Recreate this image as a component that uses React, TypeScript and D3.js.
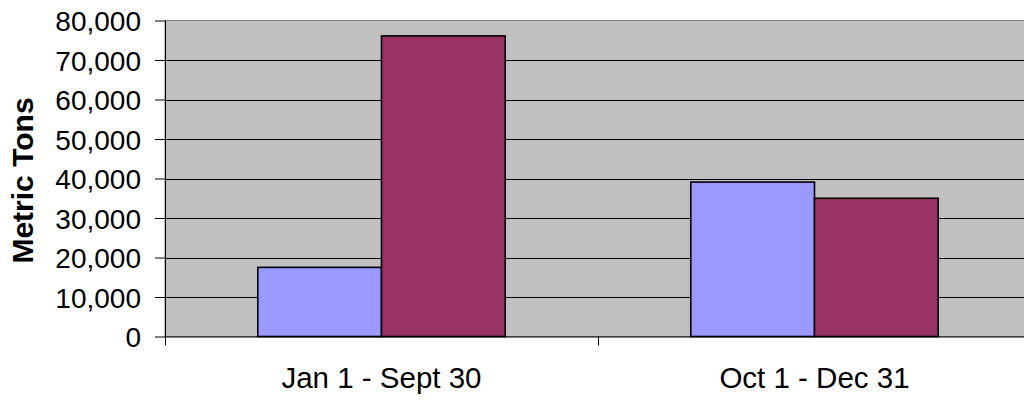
import * as d3 from "d3";
import { useEffect, useRef } from "react";

const categories = ["Jan 1 - Sept 30", "Oct 1 - Dec 31"];
const seriesNames = ["Series A", "Series B"];
const seriesA = [17500, 39100];
const seriesB = [76100, 35000];
const yTicks = [0, 10000, 20000, 30000, 40000, 50000, 60000, 70000, 80000];
const yLabel = "Metric Tons";

const COLORS = {
  plot: "#C0C0C0",
  border: "#808080",
  grid: "#000000",
  text: "#000000",
  series: ["#9999FF", "#993366"],
};

const WIDTH = 1024;
const HEIGHT = 401;
const FONT = "'Liberation Sans', Arial, sans-serif";

const App = () => {
  const svgRef = useRef<SVGSVGElement | null>(null);

  useEffect(() => {
    document.body.style.margin = "0";
    if (!svgRef.current) return;

    const svg = d3.select(svgRef.current);
    svg.selectAll("*").remove();

    // plot area runs past the right edge of the picture, like the original
    const left = 165;
    const right = 1031;
    const top = 20.5;
    const bottom = 336.5;

    const x = d3.scaleBand<string>().domain(categories).range([left, right]);
    const y = d3.scaleLinear().domain([0, 80000]).range([bottom, top]);

    // excel style gap width 150%
    const groupWidth = (x.bandwidth() * 2) / 3.5;
    const inner = d3
      .scaleBand<string>()
      .domain(seriesNames)
      .range([0, groupWidth]);

    svg
      .append("rect")
      .attr("x", left)
      .attr("y", top)
      .attr("width", right - left)
      .attr("height", bottom - top)
      .attr("fill", COLORS.plot)
      .attr("stroke", COLORS.border)
      .attr("stroke-width", 1);

    // gridlines
    svg
      .append("g")
      .selectAll("line")
      .data(yTicks.filter((t) => t > 0 && t < 80000))
      .join("line")
      .attr("x1", left)
      .attr("x2", right)
      .attr("y1", (d) => Math.round(y(d)) + 0.5)
      .attr("y2", (d) => Math.round(y(d)) + 0.5)
      .attr("stroke", COLORS.grid)
      .attr("stroke-width", 1);

    // bars
    const rows = categories.map((c, i) => ({
      category: c,
      values: [seriesA[i], seriesB[i]],
    }));

    svg
      .append("g")
      .selectAll("g")
      .data(rows)
      .join("g")
      .attr(
        "transform",
        (d) =>
          `translate(${(x(d.category) as number) + (x.bandwidth() - groupWidth) / 2},0)`
      )
      .selectAll("rect")
      .data((d) => d.values.map((v, i) => ({ name: seriesNames[i], value: v, i })))
      .join("rect")
      .attr("x", (d) => inner(d.name) as number)
      .attr("y", (d) => y(d.value))
      .attr("width", inner.bandwidth())
      .attr("height", (d) => bottom - y(d.value))
      .attr("fill", (d) => COLORS.series[d.i])
      .attr("stroke", "#000")
      .attr("stroke-width", 1.6);

    // y axis
    const yAxis = svg.append("g").attr("transform", `translate(${left},0)`);
    yAxis
      .call(
        d3
          .axisLeft(y)
          .tickValues(yTicks)
          .tickSize(10)
          .tickPadding(14)
          .tickFormat((d) => d3.format(",")(d as number))
      )
      .call((g) => g.select(".domain").attr("stroke", "#000").attr("d", `M0.5,${top}V${bottom}`))
      .call((g) => g.selectAll(".tick line").attr("stroke", "#000"))
      .call((g) =>
        g
          .selectAll(".tick text")
          .attr("fill", COLORS.text)
          .attr("font-family", FONT)
          .attr("font-size", 28)
          .attr("dy", "0.36em")
      );

    // x axis
    svg
      .append("line")
      .attr("x1", left)
      .attr("x2", right)
      .attr("y1", bottom + 0.5)
      .attr("y2", bottom + 0.5)
      .attr("stroke", "#000");

    svg
      .append("g")
      .selectAll("line")
      .data([left, left + x.bandwidth(), right])
      .join("line")
      .attr("x1", (d) => Math.round(d) + 0.5)
      .attr("x2", (d) => Math.round(d) + 0.5)
      .attr("y1", bottom)
      .attr("y2", bottom + 9)
      .attr("stroke", "#000");

    svg
      .append("g")
      .selectAll("text")
      .data(categories)
      .join("text")
      .attr("x", (d) => (x(d) as number) + x.bandwidth() / 2)
      .attr("y", 388)
      .attr("text-anchor", "middle")
      .attr("font-family", FONT)
      .attr("font-size", 29.5)
      .attr("fill", COLORS.text)
      .text((d) => d);

    // y axis title
    svg
      .append("text")
      .attr("transform", `translate(33,${(top + bottom) / 2 + 2}) rotate(-90)`)
      .attr("text-anchor", "middle")
      .attr("font-family", FONT)
      .attr("font-size", 30)
      .attr("font-weight", "bold")
      .attr("fill", COLORS.text)
      .text(yLabel);
  }, []);

  return (
    <svg
      ref={svgRef}
      width={WIDTH}
      height={HEIGHT}
      style={{ display: "block", background: "#fff" }}
    />
  );
};

export default App;
